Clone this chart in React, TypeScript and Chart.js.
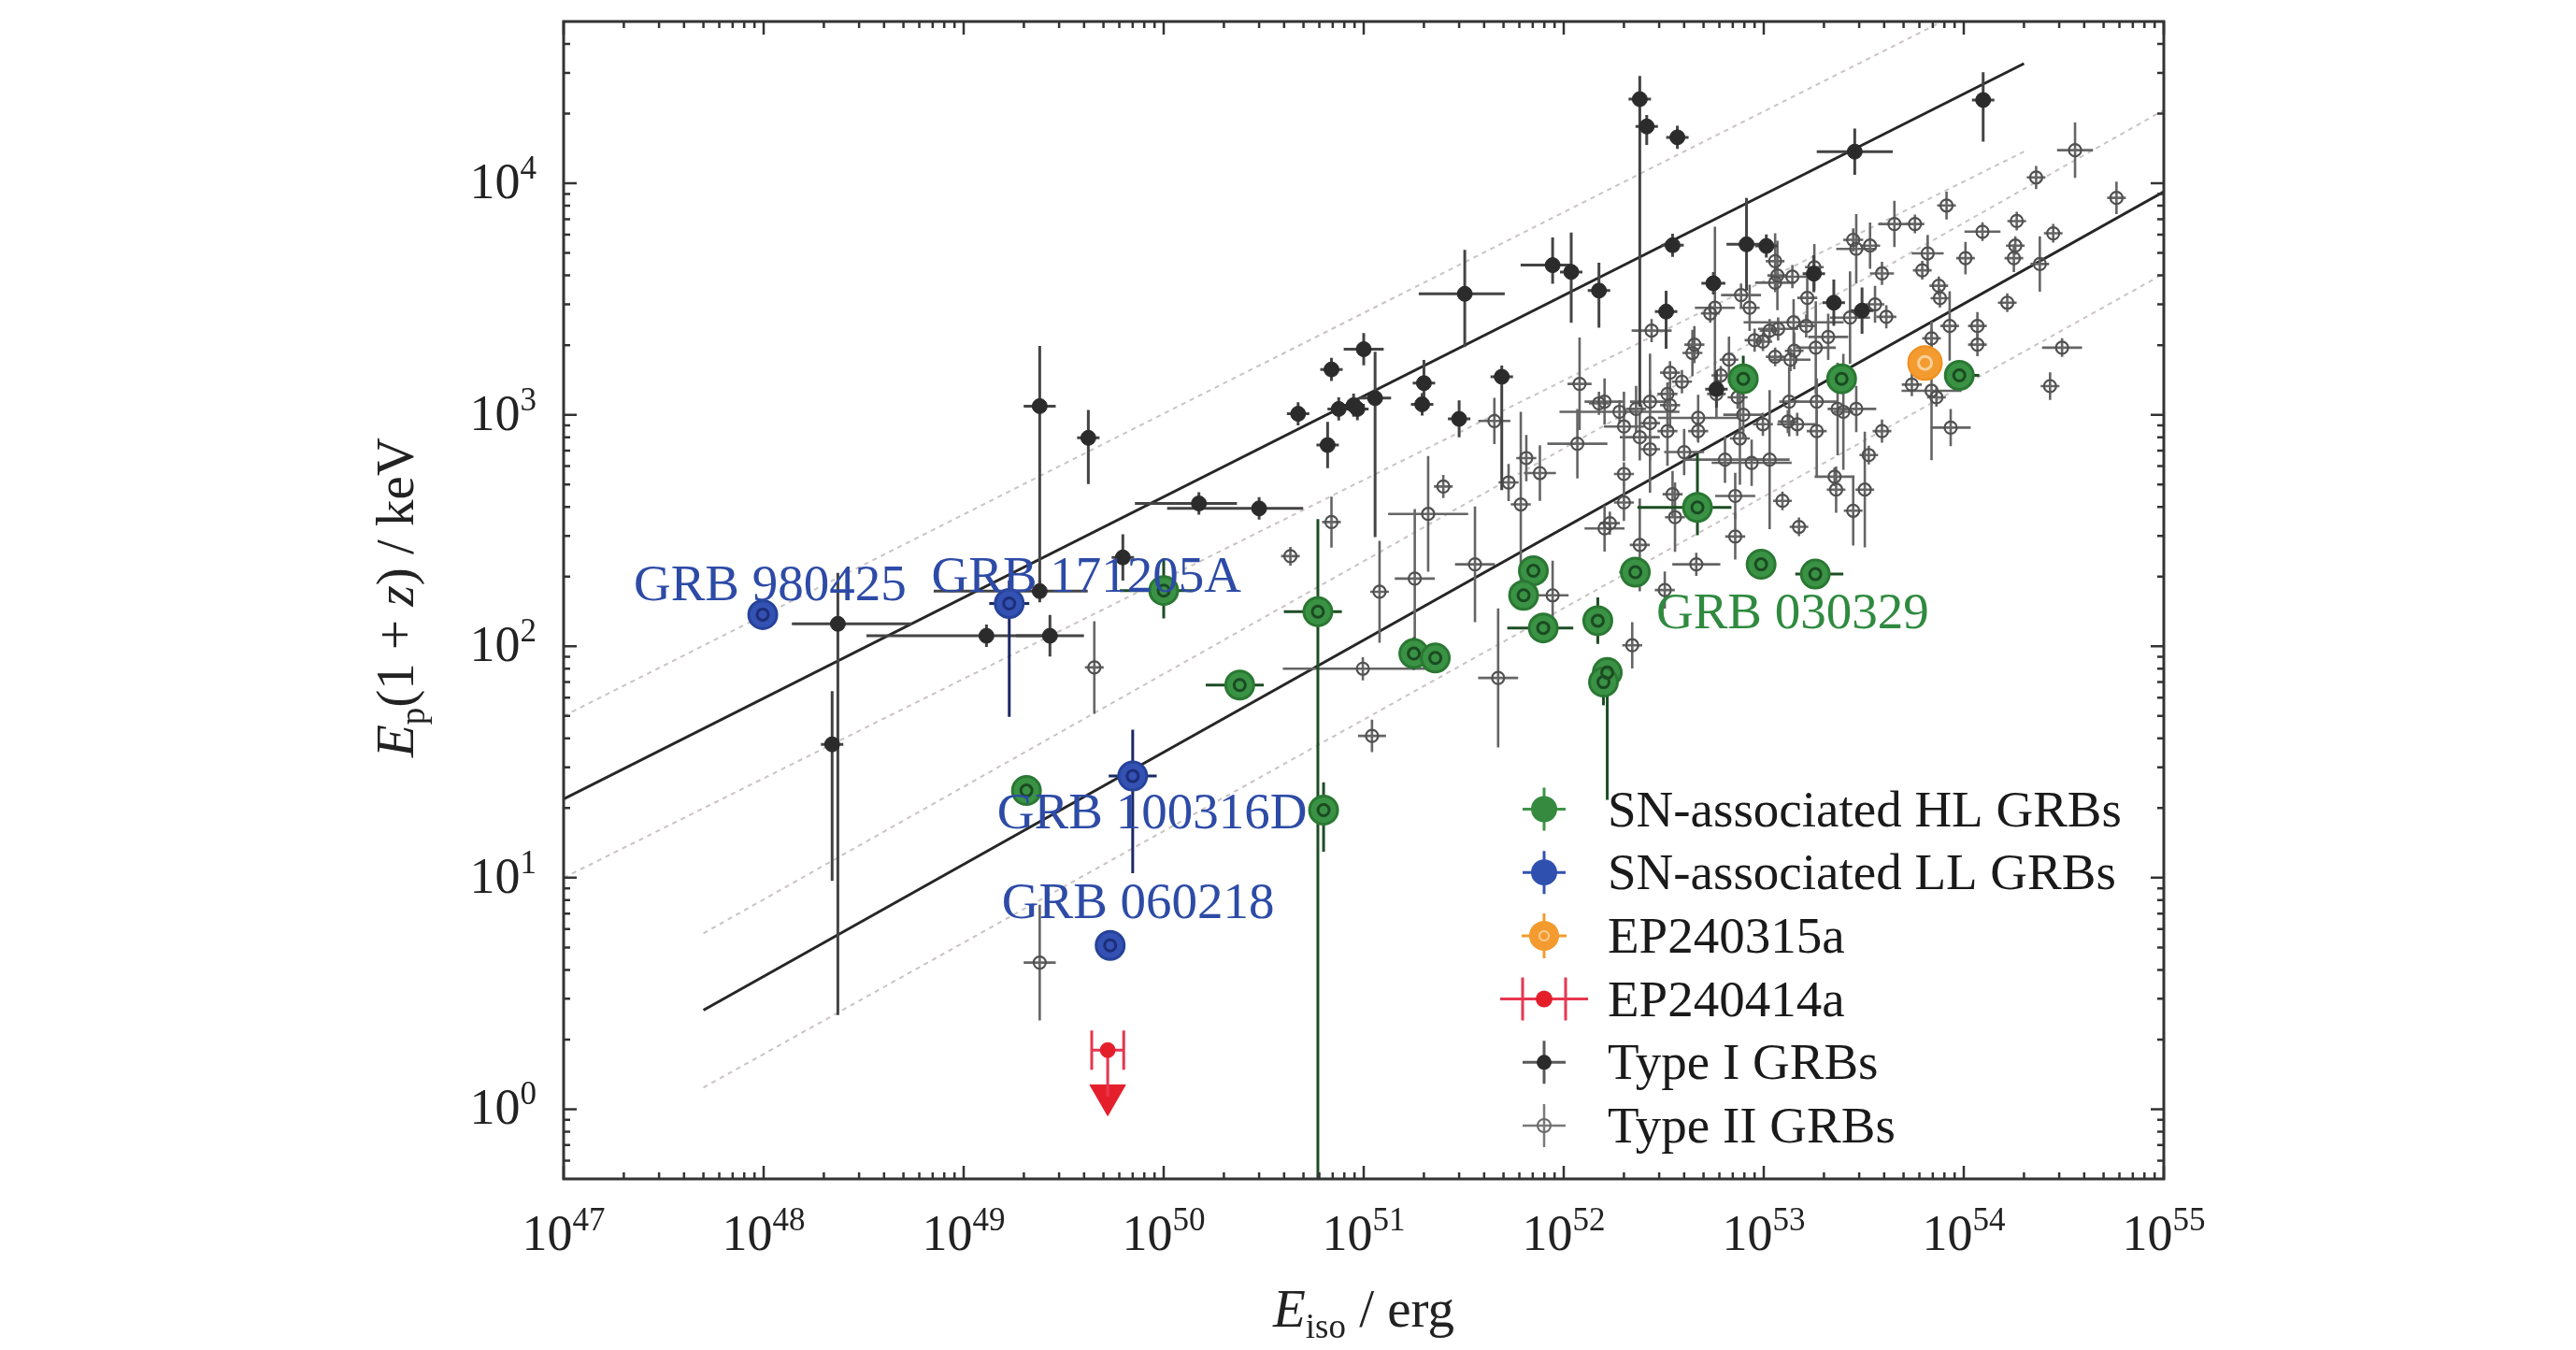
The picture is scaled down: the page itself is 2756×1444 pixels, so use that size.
import { useEffect, useRef } from 'react';
import { Chart, registerables } from 'chart.js';

Chart.register(...registerables);

const W = 2756;
const H = 1444;
const SERIF = '"Liberation Serif", "Times New Roman", serif';

// E_iso (erg), Ep(1+z) (keV), error in dex: left, right, down, up
const hlGrbs: number[][] = [
  [7.9e52, 1430, 0.05, 0.05, 0.05, 0.1],
  [2.45e53, 1430, 0.04, 0.04, 0.05, 0.05],
  [9.5e53, 1480, 0.03, 0.1, 0.03, 0.03],
  [4.66e52, 398, 0.3, 0.17, 0.12, 0.23],
  [1.0e50, 174, 0.22, 0.15, 0.12, 0.14],
  [5.9e50, 141, 0.17, 0.12, 2.6, 0.4],
  [2.4e50, 68, 0.17, 0.12, 0, 0],
  [2.06e49, 23.8, 0, 0, 0, 0],
  [6.3e50, 19.6, 0, 0, 0.18, 0.12],
  [9.7e52, 226, 0, 0, 0, 0],
  [1.81e53, 205, 0.1, 0.14, 0, 0],
  [2.28e52, 209, 0.08, 0, 0, 0],
  [7.05e51, 212, 0, 0, 0, 0],
  [6.3e51, 166, 0, 0, 0, 0],
  [7.9e51, 120, 0.18, 0.15, 0, 0],
  [1.48e52, 129, 0.06, 0.06, 0.1, 0.1],
  [1.78e51, 93, 0, 0, 0.07, 0.07],
  [2.28e51, 89, 0, 0, 0, 0],
  [1.65e52, 77, 0, 0, 0.55, 0.05],
  [1.58e52, 70, 0, 0, 0.1, 0],
];

const llGrbs: number[][] = [
  [9.9e47, 137, 0.06, 0.06, 0, 0],
  [1.69e49, 153, 0.1, 0.1, 0.49, 0.1],
  [7.0e49, 27.5, 0.12, 0.12, 0.42, 0.2],
  [5.4e49, 5.1, 0, 0, 0, 0],
];

const ep240315a: number[][] = [[6.4e53, 1675, 0.03, 0.03, 0.04, 0.04]];
const ep240414a: number[][] = [[5.25e49, 1.8, 0.08, 0.08, 0.2, 0]];
const ep240414aLimit: number[][] = [[5.25e49, 1.15]];

const typeI: number[][] = [
  [2.4e52, 23100, 0.05, 0.05, 1.33, 0.1],
  [2.6e52, 17600, 0.04, 0.04, 0.08, 0.05],
  [3.7e52, 15800, 0.04, 0.04, 0.05, 0.05],
  [2.85e53, 13700, 0.19, 0.19, 0.1, 0.1],
  [1.25e54, 22900, 0.03, 0.03, 0.18, 0.12],
  [3.5e52, 5400, 0.04, 0.04, 0.05, 0.05],
  [8.8e51, 4430, 0.16, 0.1, 0.08, 0.12],
  [1.09e52, 4140, 0.03, 0.03, 0.22, 0.17],
  [1.5e52, 3440, 0.05, 0.05, 0.16, 0.12],
  [3.2e51, 3330, 0.23, 0.2, 0.23, 0.19],
  [8.2e52, 5450, 0.1, 0.1, 0.2, 0.2],
  [1.03e53, 5360, 0.04, 0.04, 0.05, 0.05],
  [5.6e52, 3700, 0.06, 0.06, 0.04, 0.04],
  [3.25e52, 2790, 0.03, 0.03, 0.16, 0.09],
  [1.0e51, 1920, 0.1, 0.1, 0.07, 0.07],
  [1.14e51, 1180, 0.08, 0.08, 0.6, 0.2],
  [9.3e50, 1060, 0.03, 0.03, 0.04, 0.04],
  [2.0e51, 1370, 0.03, 0.03, 0.1, 0.1],
  [1.96e51, 1110, 0.03, 0.03, 0.04, 0.04],
  [3.0e51, 960, 0.03, 0.03, 0.08, 0.08],
  [4.9e51, 1460, 0.03, 0.03, 0.49, 0.03],
  [5.8e52, 1290, 0.03, 0.03, 0.08, 0.08],
  [1.78e53, 4070, 0.05, 0.05, 0.08, 0.08],
  [2.24e53, 3050, 0.05, 0.05, 0.1, 0.1],
  [3.1e53, 2820, 0.04, 0.04, 0.1, 0.1],
  [2.4e49, 1090, 0.08, 0.08, 0.79, 0.26],
  [4.2e49, 795, 0.03, 0.03, 0.2, 0.12],
  [1.5e50, 414, 0.32, 0.19, 0.03, 0.03],
  [3.0e50, 394, 0.46, 0.22, 0.03, 0.03],
  [2.35e48, 125, 0.23, 0.37, 1.69, 0.22],
  [2.2e48, 37.7, 0.03, 0.03, 0.59, 0.23],
  [1.3e49, 111, 0.6, 0.3, 0.03, 0.03],
  [2.7e49, 111, 0.17, 0.17, 0.09, 0.09],
  [2.4e49, 173, 0.53, 0.24, 0.03, 0.03],
  [6.25e49, 242, 0.03, 0.03, 0.1, 0.1],
  [4.7e50, 1010, 0.03, 0.03, 0.05, 0.05],
  [6.6e50, 740, 0.03, 0.03, 0.1, 0.1],
  [7.5e50, 1060, 0.03, 0.03, 0.05, 0.05],
  [8.9e50, 1100, 0.03, 0.03, 0.05, 0.05],
  [6.9e50, 1570, 0.03, 0.03, 0.05, 0.05],
];

// E_iso (erg), Ep(1+z) (keV), symmetric error in dex: x, y
const typeII: number[][] = [
  [4.5e51, 940, 0.08, 0.1], [1.2e52, 1360, 0.06, 0.2], [1.17e52, 750, 0.15, 0.15],
  [6.5e51, 650, 0.05, 0.1], [7.6e51, 560, 0.08, 0.12], [5.3e51, 510, 0.05, 0.08],
  [2.5e51, 490, 0.04, 0.05], [2.1e51, 373, 0.2, 0.25], [6.1e51, 410, 0.05, 0.4],
  [3.6e51, 226, 0.1, 0.25], [1.8e51, 196, 0.1, 0.3], [1.2e51, 172, 0.03, 0.22],
  [9.9e50, 80, 0.4, 0.05], [4.7e51, 73, 0.1, 0.3], [8.8e51, 166, 0.08, 0.15],
  [1.6e52, 323, 0.1, 0.1], [2.0e52, 418, 0.05, 0.08], [2.4e52, 274, 0.05, 0.2],
  [2.2e52, 101, 0.05, 0.1], [3.2e52, 175, 0.05, 0.08], [4.6e52, 226, 0.12, 0.05],
  [7.2e52, 298, 0.05, 0.1], [1.24e53, 425, 0.03, 0.03], [1.5e53, 328, 0.03, 0.03],
  [2.8e53, 385, 0.03, 0.15], [2.3e53, 475, 0.03, 0.1], [7.2e52, 446, 0.1, 0.1],
  [3.6e52, 361, 0.05, 0.15], [2.75e52, 2310, 0.1, 0.05], [4.4e52, 1850, 0.05, 0.1],
  [3.4e52, 1520, 0.05, 0.05], [1.6e52, 1140, 0.1, 0.1], [2.0e52, 890, 0.1, 0.15],
  [2.4e52, 800, 0.1, 0.1], [2.7e52, 920, 0.05, 0.3], [3.4e52, 1100, 0.05, 0.1],
  [3.3e52, 850, 0.05, 0.15], [4.0e52, 690, 0.1, 0.1], [4.7e52, 970, 0.2, 0.1],
  [7.9e52, 1000, 0.1, 0.1], [7.6e52, 790, 0.05, 0.2], [9.9e52, 910, 0.05, 0.05],
  [8.7e52, 620, 0.2, 0.1], [1.07e53, 640, 0.1, 0.3], [6.4e52, 640, 0.2, 0.1],
  [1.47e53, 910, 0.1, 0.05], [1.84e53, 850, 0.05, 0.2], [1.34e53, 1140, 0.05, 0.15],
  [1.84e53, 1140, 0.1, 0.1], [2.5e53, 1030, 0.05, 0.25], [1.36e53, 1730, 0.1, 0.05],
  [2.1e53, 2170, 0.1, 0.1], [1.41e53, 2510, 0.25, 0.1], [9.0e52, 2100, 0.05, 0.05],
  [5.7e52, 2900, 0.1, 0.35], [8.5e52, 2900, 0.05, 0.1], [1.65e53, 3200, 0.05, 0.1],
  [1.17e53, 4000, 0.05, 0.15], [2.8e53, 5700, 0.05, 0.05], [1.07e53, 2310, 0.05, 0.05],
  [2.7e53, 2630, 0.1, 0.2], [3.2e53, 475, 0.03, 0.25], [4.5e52, 2010, 0.05, 0.08],
  [5.4e52, 2740, 0.04, 0.04], [7.7e52, 3290, 0.1, 0.05], [1.14e53, 4610, 0.04, 0.12],
  [1.14e53, 3720, 0.1, 0.04], [1.39e53, 3950, 0.1, 0.05], [1.79e53, 4340, 0.04, 0.1],
  [2.9e53, 5210, 0.1, 0.15], [3.4e53, 5380, 0.05, 0.1], [4.5e53, 6670, 0.08, 0.1],
  [5.7e53, 6670, 0.04, 0.04], [8.2e53, 8020, 0.04, 0.06], [6.6e53, 4980, 0.08, 0.08],
  [6.2e53, 4210, 0.04, 0.04], [7.5e53, 3610, 0.04, 0.04], [3.9e53, 4080, 0.06, 0.05],
  [3.6e53, 3000, 0.04, 0.08], [4.1e53, 2650, 0.05, 0.05], [1.63e53, 2420, 0.05, 0.05],
  [1.18e53, 2350, 0.1, 0.05], [9.9e52, 2070, 0.04, 0.04], [1.42e53, 1890, 0.04, 0.08],
  [1.82e53, 1950, 0.1, 0.2], [1.14e53, 1780, 0.04, 0.04], [6.7e52, 1730, 0.04, 0.1],
  [6.1e52, 1480, 0.04, 0.04], [5.8e52, 1230, 0.04, 0.1], [3.9e52, 1390, 0.05, 0.05],
  [3.3e52, 1230, 0.05, 0.05], [2.7e52, 1140, 0.1, 0.05], [2.3e52, 1060, 0.05, 0.1],
  [1.9e52, 1030, 0.3, 0.05], [1.5e52, 1120, 0.05, 0.05], [2.7e52, 710, 0.05, 0.05],
  [4.7e52, 850, 0.05, 0.05], [2.0e52, 555, 0.05, 0.05], [1.7e52, 340, 0.05, 0.05],
  [3.5e52, 454, 0.05, 0.1], [7.4e52, 1190, 0.05, 0.05], [1.32e53, 935, 0.05, 0.05],
  [2.34e53, 1060, 0.05, 0.2], [2.9e53, 1060, 0.1, 0.1], [3.9e53, 850, 0.04, 0.05],
  [3.35e53, 670, 0.04, 0.04], [2.26e53, 540, 0.1, 0.04], [8.6e53, 880, 0.1, 0.08],
  [6.9e53, 1270, 0.15, 0.3], [5.5e53, 1350, 0.05, 0.05], [8.5e53, 2420, 0.04, 0.15],
  [3.6e54, 13900, 0.09, 0.12], [2.3e54, 10600, 0.04, 0.05], [5.8e54, 8650, 0.03, 0.07],
  [1.24e54, 6180, 0.09, 0.04], [1.84e54, 6870, 0.03, 0.04], [1.81e54, 5380, 0.03, 0.04],
  [2.8e54, 6080, 0.03, 0.03], [2.4e54, 4480, 0.03, 0.12], [1.78e54, 4750, 0.03, 0.06],
  [1.02e54, 4750, 0.03, 0.07], [7.6e53, 3190, 0.04, 0.04], [1.65e54, 3050, 0.04, 0.04],
  [1.17e54, 2420, 0.04, 0.06], [1.17e54, 2010, 0.03, 0.05], [3.1e54, 1950, 0.1, 0.03],
  [2.7e54, 1330, 0.03, 0.06], [6.9e53, 2140, 0.04, 0.04], [7.3e53, 1190, 0.04, 0.04],
  [6.9e50, 344, 0.04, 0.11], [4.3e50, 245, 0.03, 0.03], [4.5e49, 81, 0.03, 0.2],
  [1.1e51, 41, 0.07, 0.07], [2.4e49, 4.3, 0.08, 0.25],
];

// Amati-type relations and their bands: [E_iso, Ep] end points
const relationTypeI = [[1e47, 21.9], [2.0e54, 32900]];
const relationTypeIUpper = [[1e47, 50], [2.0e54, 75300]];
const relationTypeILower = [[1e47, 10], [2.0e54, 13700]];
const relationTypeII = [[5.0e47, 2.68], [1e55, 9200]];
const relationTypeIIUpper = [[5.0e47, 5.75], [1e55, 20700]];
const relationTypeIILower = [[5.0e47, 1.24], [1e55, 4070]];

const xTickExponents = [47, 48, 49, 50, 51, 52, 53, 54, 55];
const yTickExponents = [0, 1, 2, 3, 4];

const grbNotes = [
  { text: 'GRB 980425', x: 2.24e47, y: 158, color: '#2d4ba6' },
  { text: 'GRB 171205A', x: 6.9e48, y: 172, color: '#2d4ba6' },
  { text: 'GRB 100316D', x: 1.47e49, y: 16.3, color: '#2d4ba6' },
  { text: 'GRB 060218', x: 1.55e49, y: 6.67, color: '#2d4ba6' },
  { text: 'GRB 030329', x: 2.9e52, y: 120, color: '#2f8a3f' },
];

const legendNames = [
  'SN-associated HL GRBs',
  'SN-associated LL GRBs',
  'EP240315a',
  'EP240414a',
  'Type I GRBs',
  'Type II GRBs',
];

const withErrors = (rows: number[][]) =>
  rows.map(([x, y, l, r, d, u]) => ({
    x,
    y,
    xMin: x / 10 ** l,
    xMax: x * 10 ** r,
    yMin: y / 10 ** d,
    yMax: y * 10 ** u,
  }));

const withSymErrors = (rows: number[][]) =>
  rows.map(([x, y, ex, ey]) => ({
    x,
    y,
    xMin: x / 10 ** ex,
    xMax: x * 10 ** ex,
    yMin: y / 10 ** ey,
    yMax: y * 10 ** ey,
  }));

const toPoints = (rows: number[][]) => rows.map(([x, y]) => ({ x, y }));

const errorBarPlugin = {
  id: 'errorBars',
  beforeDatasetDraw(chart: any, args: any) {
    const ds = chart.data.datasets[args.index];
    const opt = ds.errorBar;
    if (!opt) return;
    const { ctx, chartArea: a, scales } = chart;
    const xs = scales.x;
    const ys = scales.y;
    const min = opt.min || 0;
    ctx.save();
    ctx.beginPath();
    ctx.rect(a.left, a.top, a.right - a.left, a.bottom - a.top);
    ctx.clip();
    ctx.strokeStyle = opt.color;
    ctx.lineWidth = opt.width;
    for (const p of ds.data) {
      const px = xs.getPixelForValue(p.x);
      const py = ys.getPixelForValue(p.y);
      const x0 = Math.min(xs.getPixelForValue(p.xMin), px - min);
      const x1 = Math.max(xs.getPixelForValue(p.xMax), px + min);
      const y0 = Math.max(ys.getPixelForValue(p.yMin), py + min);
      const y1 = Math.min(ys.getPixelForValue(p.yMax), py - min);
      ctx.beginPath();
      if (x1 - x0 > 0.5) {
        ctx.moveTo(x0, py);
        ctx.lineTo(x1, py);
      }
      if (y0 - y1 > 0.5) {
        ctx.moveTo(px, y0);
        ctx.lineTo(px, y1);
      }
      if (opt.cap) {
        ctx.moveTo(x0, py - opt.cap);
        ctx.lineTo(x0, py + opt.cap);
        ctx.moveTo(x1, py - opt.cap);
        ctx.lineTo(x1, py + opt.cap);
      }
      ctx.stroke();
    }
    ctx.restore();
  },
};

type Run = { text: string; size: number; italic?: boolean; dy?: number };

function drawRuns(ctx: CanvasRenderingContext2D, runs: Run[], x: number, y: number, align: string) {
  const widths = runs.map((r) => {
    ctx.font = `${r.italic ? 'italic ' : ''}${r.size}px ${SERIF}`;
    return ctx.measureText(r.text).width;
  });
  const total = widths.reduce((s, w) => s + w, 0);
  let cx = align === 'center' ? x - total / 2 : align === 'right' ? x - total : x;
  runs.forEach((r, i) => {
    ctx.font = `${r.italic ? 'italic ' : ''}${r.size}px ${SERIF}`;
    ctx.fillText(r.text, cx, y + (r.dy || 0));
    cx += widths[i];
  });
}

const notesPlugin = {
  id: 'grbNotes',
  afterDatasetsDraw(chart: any) {
    const { ctx, scales } = chart;
    ctx.save();
    ctx.textAlign = 'left';
    ctx.textBaseline = 'alphabetic';
    ctx.font = `55px ${SERIF}`;
    for (const n of grbNotes) {
      ctx.fillStyle = n.color;
      ctx.fillText(n.text, scales.x.getPixelForValue(n.x), scales.y.getPixelForValue(n.y));
    }
    ctx.restore();
  },
};

const framePlugin = {
  id: 'frame',
  afterDatasetsDraw(chart: any) {
    const { ctx, chartArea: a, scales } = chart;
    const xs = scales.x;
    const ys = scales.y;
    ctx.save();
    ctx.strokeStyle = '#333333';
    ctx.lineWidth = 2.5;
    ctx.beginPath();
    const xTick = (v: number, len: number) => {
      const px = xs.getPixelForValue(v);
      ctx.moveTo(px, a.bottom);
      ctx.lineTo(px, a.bottom - len);
      ctx.moveTo(px, a.top);
      ctx.lineTo(px, a.top + len);
    };
    const yTick = (v: number, len: number) => {
      const py = ys.getPixelForValue(v);
      ctx.moveTo(a.left, py);
      ctx.lineTo(a.left + len, py);
      ctx.moveTo(a.right, py);
      ctx.lineTo(a.right - len, py);
    };
    xTickExponents.forEach((e) => {
      xTick(10 ** e, 14);
      for (let m = 2; m <= 9; m++) {
        const v = m * 10 ** e;
        if (v < xs.max) xTick(v, 7);
      }
    });
    for (let e = yTickExponents[0] - 1; e <= yTickExponents[yTickExponents.length - 1]; e++) {
      for (let m = 1; m <= 9; m++) {
        const v = m * 10 ** e;
        if (v <= ys.min || v >= ys.max) continue;
        yTick(v, m === 1 ? 14 : 7);
      }
    }
    ctx.stroke();
    ctx.lineWidth = 3;
    ctx.strokeRect(a.left, a.top, a.right - a.left, a.bottom - a.top);

    ctx.fillStyle = '#222222';
    ctx.textBaseline = 'alphabetic';
    ctx.textAlign = 'left';
    xTickExponents.forEach((e) => {
      drawRuns(
        ctx,
        [
          { text: '10', size: 54 },
          { text: String(e), size: 35, dy: -21 },
        ],
        xs.getPixelForValue(10 ** e),
        a.bottom + 76,
        'center'
      );
    });
    yTickExponents.forEach((e) => {
      drawRuns(
        ctx,
        [
          { text: '10', size: 54 },
          { text: String(e), size: 35, dy: -21 },
        ],
        a.left - 29,
        ys.getPixelForValue(10 ** e) + 16,
        'right'
      );
    });

    drawRuns(
      ctx,
      [
        { text: 'E', size: 57, italic: true },
        { text: 'iso', size: 37, dy: 12 },
        { text: ' / erg', size: 57 },
      ],
      (a.left + a.right) / 2,
      1419,
      'center'
    );

    ctx.save();
    ctx.translate(442, (a.top + a.bottom) / 2 - 3);
    ctx.rotate(-Math.PI / 2);
    drawRuns(
      ctx,
      [
        { text: 'E', size: 57, italic: true },
        { text: 'p', size: 37, dy: 12 },
        { text: '(1 + ', size: 57 },
        { text: 'z', size: 57, italic: true },
        { text: ') / keV', size: 57 },
      ],
      0,
      0,
      'center'
    );
    ctx.restore();
    ctx.restore();
  },
};

function legendMarker(ctx: CanvasRenderingContext2D, i: number, x: number, y: number) {
  const bars = (color: string, half: number, width: number) => {
    ctx.strokeStyle = color;
    ctx.lineWidth = width;
    ctx.beginPath();
    ctx.moveTo(x - half, y);
    ctx.lineTo(x + half, y);
    ctx.moveTo(x, y - half);
    ctx.lineTo(x, y + half);
    ctx.stroke();
  };
  const disc = (r: number, fill: string | null, stroke: string | null, lw = 2) => {
    ctx.beginPath();
    ctx.arc(x, y, r, 0, Math.PI * 2);
    if (fill) {
      ctx.fillStyle = fill;
      ctx.fill();
    }
    if (stroke) {
      ctx.strokeStyle = stroke;
      ctx.lineWidth = lw;
      ctx.stroke();
    }
  };
  if (i === 0) {
    bars('#3d9447', 23, 3);
    disc(14, '#358a3f', null);
  } else if (i === 1) {
    bars('#3352b3', 23, 3);
    disc(14, '#3050b0', null);
  } else if (i === 2) {
    bars('#f39b2f', 24, 3);
    disc(16, '#f39b2f', null);
    disc(5, null, '#f9cf98', 2);
  } else if (i === 3) {
    ctx.strokeStyle = '#e8364f';
    ctx.lineWidth = 3;
    ctx.beginPath();
    ctx.moveTo(x - 47, y);
    ctx.lineTo(x + 47, y);
    ctx.moveTo(x - 23, y - 23);
    ctx.lineTo(x - 23, y + 23);
    ctx.moveTo(x + 23, y - 23);
    ctx.lineTo(x + 23, y + 23);
    ctx.stroke();
    disc(9, '#e41f2b', null);
  } else if (i === 4) {
    bars('#5a5a5a', 23, 3);
    disc(8, '#2b2b2b', null);
  } else {
    bars('#7a7a7a', 23, 2.5);
    disc(7, null, '#6a6a6a', 2);
  }
}

const legendPlugin = {
  id: 'customLegend',
  afterDraw(chart: any) {
    const { ctx, chartArea: a } = chart;
    ctx.save();
    legendNames.forEach((name, i) => {
      const y = a.top + 842.5 + i * 67.7;
      legendMarker(ctx, i, a.left + 1049, y);
      ctx.fillStyle = '#1a1a1a';
      ctx.font = `55px ${SERIF}`;
      ctx.textAlign = 'left';
      ctx.textBaseline = 'alphabetic';
      ctx.fillText(name, a.left + 1117, y + 18);
    });
    ctx.restore();
  },
};

const relationLine = (rows: number[][], dashed: boolean) => ({
  data: toPoints(rows),
  showLine: true,
  pointRadius: 0,
  borderColor: dashed ? '#cbc3c3' : '#262626',
  borderWidth: dashed ? 2 : 3,
  borderDash: dashed ? [5, 5] : [],
  fill: false,
  order: 10,
});

export default function App() {
  const canvas = useRef<HTMLCanvasElement | null>(null);
  const chartRef = useRef<Chart | null>(null);

  useEffect(() => {
    const node = canvas.current;
    if (!node) {
      return;
    }
    if (chartRef.current) {
      chartRef.current.destroy();
    }

    const hl = withErrors(hlGrbs);
    const ll = withErrors(llGrbs);
    const orange = withErrors(ep240315a);

    chartRef.current = new Chart(node, {
      type: 'scatter',
      data: {
        datasets: [
          relationLine(relationTypeIUpper, true),
          relationLine(relationTypeILower, true),
          relationLine(relationTypeIIUpper, true),
          relationLine(relationTypeIILower, true),
          relationLine(relationTypeI, false),
          relationLine(relationTypeII, false),
          {
            label: 'Type II GRBs',
            data: withSymErrors(typeII),
            pointRadius: 6.5,
            backgroundColor: 'rgba(255,255,255,0)',
            borderColor: '#505050',
            borderWidth: 2.2,
            errorBar: { color: '#656565', width: 2.6, min: 10 },
            order: 6,
          },
          {
            label: 'Type I GRBs',
            data: withErrors(typeI),
            pointRadius: 8,
            backgroundColor: '#2b2b2b',
            borderColor: '#2b2b2b',
            borderWidth: 1,
            errorBar: { color: '#444444', width: 3, min: 12 },
            order: 5,
          },
          {
            label: 'SN-associated HL GRBs',
            data: hl,
            pointRadius: 15,
            backgroundColor: '#3a9244',
            borderColor: '#2a7833',
            borderWidth: 3,
            errorBar: { color: '#1d4d24', width: 3 },
            order: 4,
          },
          {
            label: 'HL ring',
            data: hl,
            pointRadius: 6,
            backgroundColor: 'rgba(0,0,0,0)',
            borderColor: '#1b4a22',
            borderWidth: 3,
            order: 3.9,
          },
          {
            label: 'SN-associated LL GRBs',
            data: ll,
            pointRadius: 15,
            backgroundColor: '#3352b3',
            borderColor: '#26429a',
            borderWidth: 3,
            errorBar: { color: '#1b2a66', width: 3 },
            order: 3,
          },
          {
            label: 'LL ring',
            data: ll,
            pointRadius: 6,
            backgroundColor: 'rgba(0,0,0,0)',
            borderColor: '#1d2d78',
            borderWidth: 3,
            order: 2.9,
          },
          {
            label: 'EP240315a',
            data: orange,
            pointRadius: 18,
            backgroundColor: '#f39b2f',
            borderColor: '#ee9020',
            borderWidth: 2,
            errorBar: { color: '#c97a1c', width: 2 },
            order: 2,
          },
          {
            label: 'EP240315a ring',
            data: orange,
            pointRadius: 7,
            backgroundColor: 'rgba(0,0,0,0)',
            borderColor: '#f9cf98',
            borderWidth: 3,
            order: 1.9,
          },
          {
            label: 'EP240414a limit',
            data: toPoints(ep240414aLimit),
            pointStyle: 'triangle',
            rotation: 180,
            pointRadius: 22,
            backgroundColor: '#e41f2b',
            borderColor: '#e41f2b',
            borderWidth: 1,
            order: 1,
          },
          {
            label: 'EP240414a',
            data: withErrors(ep240414a),
            pointRadius: 8,
            backgroundColor: '#e41f2b',
            borderColor: '#e41f2b',
            borderWidth: 1,
            errorBar: { color: '#e8364f', width: 3, cap: 21 },
            order: 0.5,
          },
        ] as any,
      },
      options: {
        animation: false,
        responsive: false,
        layout: {
          padding: { left: 603, right: W - 2315, top: 12.5, bottom: H - 1261 },
        },
        scales: {
          x: { type: 'logarithmic', min: 1e47, max: 1e55, display: false },
          y: { type: 'logarithmic', min: 0.5, max: 5e4, display: false },
        },
        plugins: {
          legend: { display: false },
          tooltip: { enabled: false },
        },
      },
      plugins: [errorBarPlugin, notesPlugin, framePlugin, legendPlugin],
    });

    return () => {
      chartRef.current?.destroy();
      chartRef.current = null;
    };
  }, []);

  return (
    <div style={{ position: 'absolute', left: 0, top: 0, width: W, height: H, background: '#ffffff' }}>
      <canvas ref={canvas} width={W} height={H} aria-label="Ep-Eiso diagram" role="img" />
    </div>
  );
}
